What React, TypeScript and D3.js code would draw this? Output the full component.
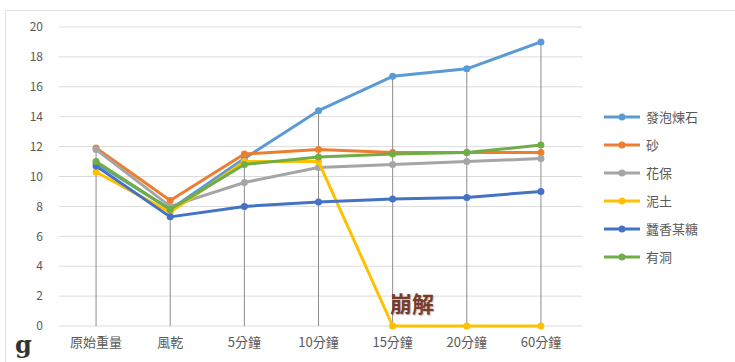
import { scaleLinear, scaleBand, line as d3_line, max } from "d3";

const categories = ["原始重量", "風乾", "5分鐘", "10分鐘", "15分鐘", "20分鐘", "60分鐘"];
const yTicks = [0, 2, 4, 6, 8, 10, 12, 14, 16, 18, 20];

const lecaValues = [10.9, 7.8, 11.2, 14.4, 16.7, 17.2, 19.0];
const sandValues = [11.9, 8.4, 11.5, 11.8, 11.6, 11.6, 11.6];
const huabaoValues = [11.8, 8.0, 9.6, 10.6, 10.8, 11.0, 11.2];
const soilValues = [10.3, 7.6, 11.0, 11.0, 0, 0, 0];
const darkValues = [10.7, 7.3, 8.0, 8.3, 8.5, 8.6, 9.0];
const holeValues = [11.0, 7.8, 10.8, 11.3, 11.5, 11.6, 12.1];

const seriesNames = ["發泡煉石", "砂", "花保", "泥土", "蠶香某糖", "有洞"];
const seriesColors = ["#5B9BD5", "#ED7D31", "#A5A5A5", "#FFC000", "#4472C4", "#70AD47"];
const seriesValues = [lecaValues, sandValues, huabaoValues, soilValues, darkValues, holeValues];

const W = 735;
const H = 362;
const margin = { top: 27, right: 157, bottom: 36, left: 59 };

export default function App() {
  const x = scaleBand<string>().domain(categories).range([margin.left, W - margin.right]);
  const y = scaleLinear().domain([0, 20]).range([H - margin.bottom, margin.top]);
  const cx = (c: string) => (x(c) ?? 0) + x.bandwidth() / 2;

  const lineGen = d3_line<number>()
    .x((_, i) => cx(categories[i]))
    .y((d) => y(d));

  const font = "'Noto Sans CJK TC', 'Noto Sans', sans-serif";

  return (
    <div style={{ position: "absolute", left: 0, top: 0 }}>
      <svg width={W} height={H} style={{ display: "block", background: "#fff" }}>
        <rect x={5.5} y={10.5} width={W} height={H} fill="#fff" stroke="#E3E3E3" />
        {yTicks.map((t) => (
          <g key={t}>
            <line x1={margin.left} x2={W - margin.right + 4} y1={y(t)} y2={y(t)} stroke="#DCDCDC" strokeWidth={1} />
            <text x={43} y={y(t)} dy="0.35em" textAnchor="end" fontSize={12} fill="#595959" fontFamily={font}>
              {t}
            </text>
          </g>
        ))}
        {categories.map((c, i) => {
          const m = max(seriesValues.map((s) => s[i])) ?? 0;
          return <line key={c} x1={cx(c)} x2={cx(c)} y1={y(m)} y2={y(0)} stroke="#8C8C8C" strokeWidth={1} />;
        })}
        {seriesValues.map((vals, si) => (
          <g key={si}>
            <path d={lineGen(vals) ?? ""} fill="none" stroke={seriesColors[si]} strokeWidth={3} strokeLinejoin="round" />
            {vals.map((v, i) => (
              <circle key={i} cx={cx(categories[i])} cy={y(v)} r={3.5} fill={seriesColors[si]} />
            ))}
          </g>
        ))}
        {categories.map((c) => (
          <text key={c} x={cx(c)} y={347} textAnchor="middle" fontSize={13} fill="#595959" fontFamily={font}>
            {c}
          </text>
        ))}
        <text x={15} y={353} fontSize={24} fontWeight="bold" fill="#333" fontFamily="'DejaVu Serif', serif">
          g
        </text>
        <text x={390} y={312} fontSize={22} fontWeight="bold" fill="#7A3B2A" fontFamily={font}
          style={{ textShadow: "1px 1px 1px rgba(0,0,0,0.25)" }}>
          崩解
        </text>
        {seriesNames.map((n, i) => {
          const ly = 117 + i * 28;
          return (
            <g key={n}>
              <line x1={604} x2={640} y1={ly} y2={ly} stroke={seriesColors[i]} strokeWidth={3} />
              <circle cx={622} cy={ly} r={3.5} fill={seriesColors[i]} />
              <text x={646} y={ly} dy="0.35em" fontSize={13} fill="#595959" fontFamily={font}>
                {n}
              </text>
            </g>
          );
        })}
      </svg>
    </div>
  );
}
